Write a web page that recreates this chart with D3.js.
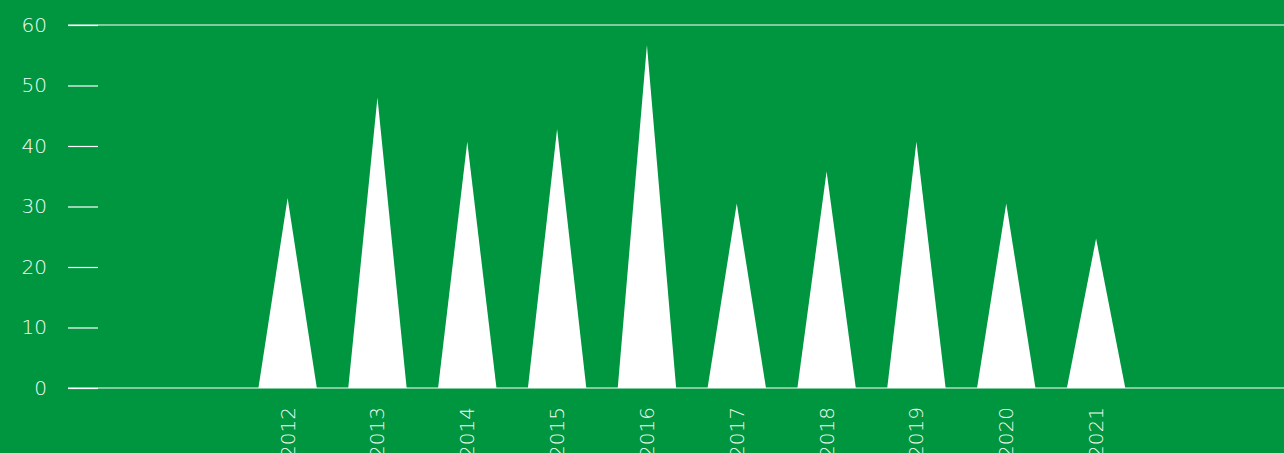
<!DOCTYPE html>
<html>
<head>
<meta charset="utf-8">
<script src="https://cdn.jsdelivr.net/npm/d3@7"></script>
<style>
  html, body { margin: 0; padding: 0; background: #009640; overflow: hidden; }
  svg { display: block; }
</style>
</head>
<body>
<div id="vis"></div>
<script>
const years = ["2012", "2013", "2014", "2015", "2016", "2017", "2018", "2019", "2020", "2021"];
const values = [31.4, 48, 40.7, 42.8, 56.7, 30.5, 35.8, 40.7, 30.5, 24.7];
const yTicks = [0, 10, 20, 30, 40, 50, 60];

const W = 1284, H = 453;
const plotLeft = 68, plotRight = 1284;
const yBottom = 388, yTop = 25;

const svg = d3.select("#vis")
  .append("svg")
  .attr("width", W)
  .attr("height", H);

svg.append("rect")
  .attr("width", W)
  .attr("height", H)
  .attr("fill", "#009640");

const x = d3.scaleBand()
  .domain(years)
  .range([242.7, 1141])
  .paddingInner(0.35)
  .paddingOuter(0.175);

const y = d3.scaleLinear()
  .domain([0, 60])
  .range([yBottom, yTop]);

// y axis: short ticks, labels on the left
const yAxis = svg.append("g")
  .attr("transform", `translate(${plotLeft + 30}, 0)`)
  .call(d3.axisLeft(y).tickValues(yTicks).tickSize(30).tickPadding(21));

yAxis.select(".domain").remove();
yAxis.selectAll("line").attr("stroke", "#ffffff").attr("stroke-width", 1.2);
yAxis.selectAll("text")
  .attr("fill", "#f4fbf5")
  .attr("font-family", "DejaVu Sans")
  .attr("font-weight", 300)
  .attr("font-size", "20px");

// full width lines at 0 and 60
svg.selectAll("line.full")
  .data([0, 60])
  .join("line")
  .attr("class", "full")
  .attr("x1", plotLeft)
  .attr("x2", plotRight)
  .attr("y1", d => y(d))
  .attr("y2", d => y(d))
  .attr("stroke", "#ffffff")
  .attr("stroke-width", 1.2);

// triangles
svg.selectAll("path.tri")
  .data(years)
  .join("path")
  .attr("class", "tri")
  .attr("fill", "#ffffff")
  .attr("d", (d, i) => {
    const x0 = x(d), x1 = x(d) + x.bandwidth(), cx = x(d) + x.bandwidth() / 2;
    return `M${x0},${y(0)}L${cx},${y(values[i])}L${x1},${y(0)}Z`;
  });

// x labels, rotated (cut off by the bottom edge, like the original)
const xAxis = svg.append("g")
  .attr("transform", `translate(0, ${yBottom})`)
  .call(d3.axisBottom(x).tickSize(0));

xAxis.select(".domain").remove();
xAxis.selectAll("text")
  .attr("transform", "rotate(-90)")
  .attr("x", -19)
  .attr("y", 0)
  .attr("dy", "0.35em")
  .style("text-anchor", "end")
  .attr("fill", "#f4fbf5")
  .attr("font-family", "DejaVu Sans")
  .attr("font-weight", 300)
  .attr("font-size", "20px");
</script>
</body>
</html>
